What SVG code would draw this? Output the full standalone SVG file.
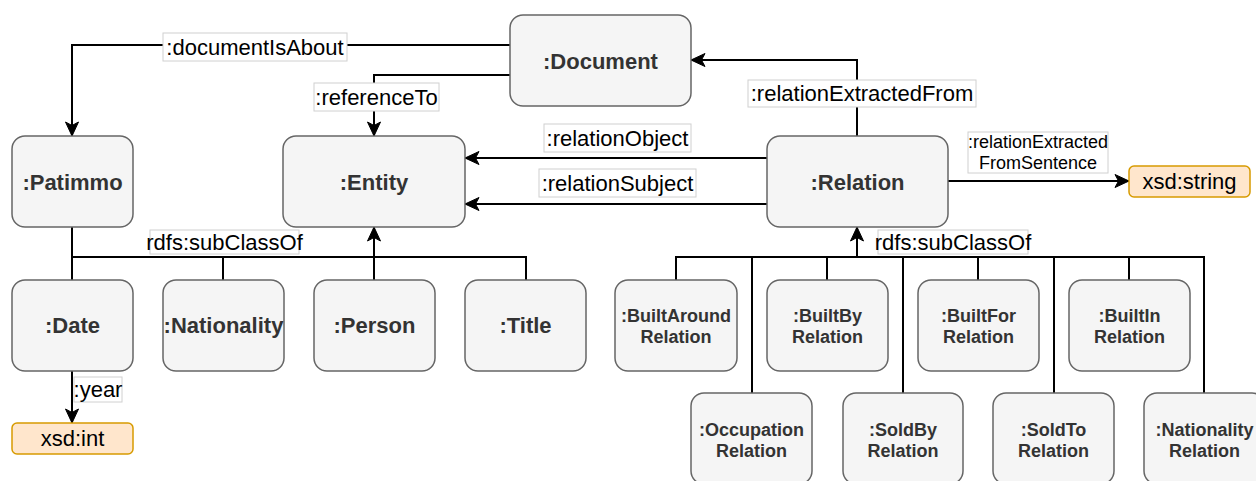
<svg xmlns="http://www.w3.org/2000/svg" width="1256" height="481" viewBox="0 0 1256 481">
<style>
.n{fill:#f5f5f5;stroke:#666666;stroke-width:1.5}
.d{fill:#ffe6cc;stroke:#d79b00;stroke-width:1.5}
.t{font-family:"Liberation Sans",Arial,sans-serif;font-weight:bold;font-size:22px;fill:#333333;text-anchor:middle}
.s{font-family:"Liberation Sans",Arial,sans-serif;font-weight:bold;font-size:18px;fill:#333333;text-anchor:middle}
.dt{font-family:"Liberation Sans",Arial,sans-serif;font-size:22px;fill:#000;text-anchor:middle}
.e{fill:none;stroke:#000;stroke-width:2}
.ea{fill:none;stroke:#000;stroke-width:2;marker-end:url(#arr)}
.lb{fill:#fff;stroke:#d0d0d0;stroke-width:1}
.l{font-family:"Liberation Sans",Arial,sans-serif;font-size:22px;fill:#000;text-anchor:middle}
.ls{font-family:"Liberation Sans",Arial,sans-serif;font-size:18px;fill:#000;text-anchor:middle}
</style>
<defs>
<marker id="arr" markerUnits="userSpaceOnUse" markerWidth="16" markerHeight="16" viewBox="0 0 16 16" refX="15" refY="8" orient="auto">
<path d="M15,8 L1,1.5 L4.5,8 L1,14.5 Z" fill="#000" stroke="#000" stroke-width="1"/>
</marker>
</defs>
<rect width="1256" height="481" fill="#fff"/>
<g id="connectors">
<path class="ea" d="M510,45 H72 V136"/>
<path class="ea" d="M510,75 H374 V136"/>
<path class="ea" d="M857,136 V60 H691"/>
<path class="ea" d="M767,158 H465"/>
<path class="ea" d="M767,204 H465"/>
<path class="ea" d="M948,181 H1129"/>
<path class="ea" d="M72,371 V423"/>
<path class="e" d="M72,227 V280"/>
<path class="e" d="M72,257 H526 V280"/>
<path class="e" d="M223,257 V280"/>
<path class="ea" d="M374,280 V227"/>
<path class="e" d="M676,280 V257 H1204 V393"/>
<path class="e" d="M752,257 V393"/>
<path class="e" d="M827,257 V280"/>
<path class="e" d="M903,257 V393"/>
<path class="e" d="M978,257 V280"/>
<path class="e" d="M1054,257 V393"/>
<path class="e" d="M1129,257 V280"/>
<path class="ea" d="M857,257 V227"/>
<g id="labels">
<rect class="lb" x="163" y="33" width="184" height="28"/>
<text class="l" x="255" y="55">:documentIsAbout</text>
<rect class="lb" x="314" y="83" width="125" height="28"/>
<text class="l" x="376.5" y="105">:referenceTo</text>
<rect class="lb" x="748" y="80" width="228" height="27"/>
<text class="l" x="862" y="101">:relationExtractedFrom</text>
<rect class="lb" x="544" y="124" width="147" height="28"/>
<text class="l" x="617.5" y="146">:relationObject</text>
<rect class="lb" x="539" y="169" width="157" height="28"/>
<text class="l" x="617.5" y="191">:relationSubject</text>
<rect class="lb" x="968" y="132" width="140" height="41"/>
<text class="ls" x="1038" y="148">:relationExtracted</text>
<text class="ls" x="1038" y="169">FromSentence</text>
<rect class="lb" x="74" y="377" width="48" height="25"/>
<text class="l" x="98" y="397">:year</text>
<rect class="lb" x="150" y="230" width="149" height="24"/>
<text class="l" x="224.5" y="250">rdfs:subClassOf</text>
<rect class="lb" x="878" y="230" width="150" height="24"/>
<text class="l" x="953" y="250">rdfs:subClassOf</text>
</g>
</g>
<g id="document"><rect class="n" x="510" y="15" width="181" height="91" rx="13"/><text class="t" x="600.5" y="69">:Document</text></g>
<g id="patimmo"><rect class="n" x="12" y="136" width="121" height="91" rx="13"/><text class="t" x="72.5" y="190">:Patimmo</text></g>
<g id="entity"><rect class="n" x="283" y="136" width="182" height="91" rx="13"/><text class="t" x="374" y="190">:Entity</text></g>
<g id="relation"><rect class="n" x="767" y="136" width="181" height="91" rx="13"/><text class="t" x="857.5" y="190">:Relation</text></g>
<g id="xsdstring"><rect class="d" x="1129" y="166" width="121" height="31" rx="5"/><text class="dt" x="1189.5" y="189">xsd:string</text></g>
<g id="date"><rect class="n" x="12" y="280" width="121" height="91" rx="13"/><text class="t" x="72.5" y="333">:Date</text></g>
<g id="nationality"><rect class="n" x="163" y="280" width="121" height="91" rx="13"/><text class="t" x="223.5" y="333">:Nationality</text></g>
<g id="person"><rect class="n" x="314" y="280" width="121" height="91" rx="13"/><text class="t" x="374.5" y="333">:Person</text></g>
<g id="title"><rect class="n" x="465" y="280" width="121" height="91" rx="13"/><text class="t" x="525.5" y="333">:Title</text></g>
<g id="xsdint"><rect class="d" x="12" y="423" width="121" height="31" rx="5"/><text class="dt" x="72.5" y="446">xsd:int</text></g>
<g id="builtaround"><rect class="n" x="615" y="280" width="122" height="91" rx="13"/><text class="s" x="676" y="322">:BuiltAround</text><text class="s" x="676" y="343">Relation</text></g>
<g id="builtby"><rect class="n" x="767" y="280" width="121" height="91" rx="13"/><text class="s" x="827.5" y="322">:BuiltBy</text><text class="s" x="827.5" y="343">Relation</text></g>
<g id="builtfor"><rect class="n" x="918" y="280" width="121" height="91" rx="13"/><text class="s" x="978.5" y="322">:BuiltFor</text><text class="s" x="978.5" y="343">Relation</text></g>
<g id="builtin"><rect class="n" x="1069" y="280" width="121" height="91" rx="13"/><text class="s" x="1129.5" y="322">:BuiltIn</text><text class="s" x="1129.5" y="343">Relation</text></g>
<g id="occupation"><rect class="n" x="691" y="393" width="121" height="91" rx="13"/><text class="s" x="751.5" y="436">:Occupation</text><text class="s" x="751.5" y="457">Relation</text></g>
<g id="soldby"><rect class="n" x="843" y="393" width="120" height="91" rx="13"/><text class="s" x="903" y="436">:SoldBy</text><text class="s" x="903" y="457">Relation</text></g>
<g id="soldto"><rect class="n" x="993" y="393" width="121" height="91" rx="13"/><text class="s" x="1053.5" y="436">:SoldTo</text><text class="s" x="1053.5" y="457">Relation</text></g>
<g id="nationalityrel"><rect class="n" x="1144" y="393" width="121" height="91" rx="13"/><text class="s" x="1204.5" y="436">:Nationality</text><text class="s" x="1204.5" y="457">Relation</text></g>
</svg>
